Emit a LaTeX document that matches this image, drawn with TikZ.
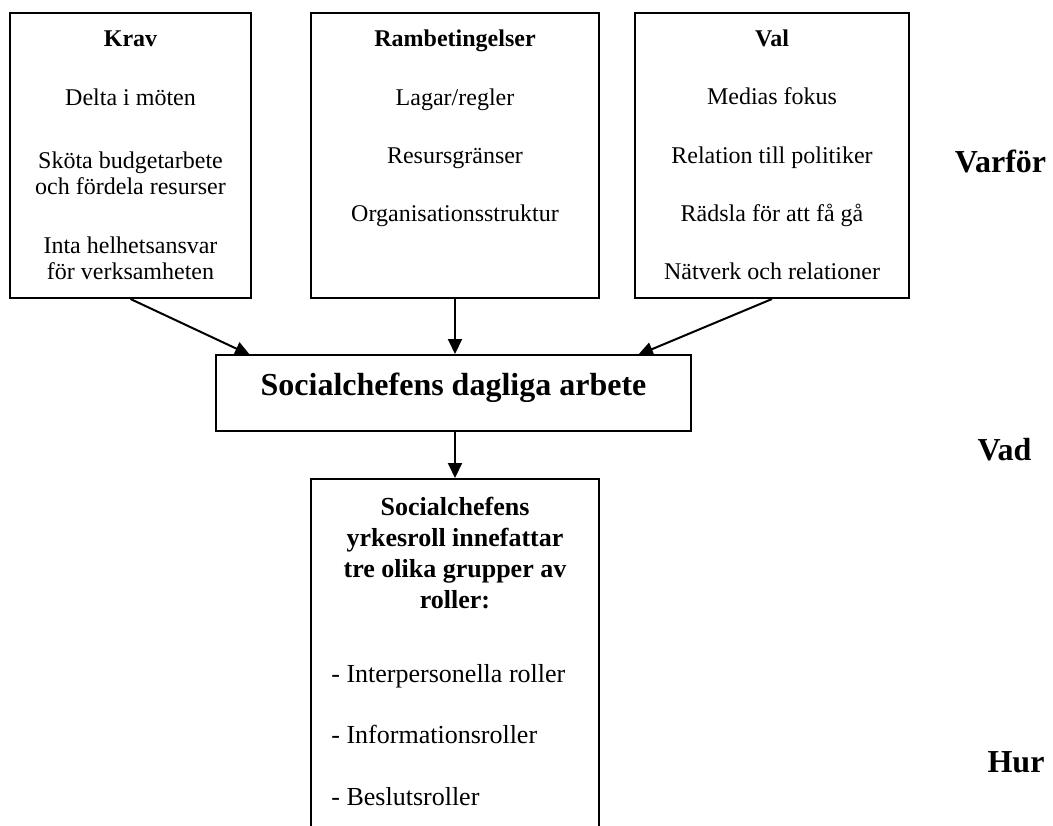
\documentclass[tikz,border=0pt]{standalone}
\usepackage{fontspec}
\setmainfont{Liberation Serif}
\usetikzlibrary{arrows.meta}
\begin{document}
\begin{tikzpicture}[x=0.5pt,y=-0.5pt,
  box/.style={draw, line width=1pt, inner sep=0pt, rectangle},
  arr/.style={line width=1pt, -{Triangle[length=7.5pt,width=7pt]}},
  tn/.style={anchor=base, inner sep=0pt, font=\fontsize{12}{14}\selectfont},
  tb/.style={anchor=base, inner sep=0pt, font=\fontsize{12}{14}\selectfont\bfseries},
  mn/.style={anchor=base, inner sep=0pt, font=\fontsize{13}{15}\selectfont},
  mb/.style={anchor=base, inner sep=0pt, font=\fontsize{13}{15}\selectfont\bfseries},
  big/.style={anchor=base, inner sep=0pt, font=\fontsize{16}{19}\selectfont\bfseries}]
\clip (0,0) rectangle (1053,825);
% boxes
\node[box, minimum width=120.5pt, minimum height=142.5pt] (krav) at (130.5,155.5) {};
\node[box, minimum width=144pt, minimum height=142.5pt] (ramb) at (455,155.5) {};
\node[box, minimum width=137pt, minimum height=142.5pt] (val) at (772,155.5) {};
\node[box, minimum width=237.5pt, minimum height=38pt] (mid) at (453.5,393) {};
\node[box, minimum width=144pt, minimum height=183pt] (roles) at (455,662) {};
% Krav texts
\node[tb] (k0) at (130.5,46) {Krav};
\node[tn] (k1) at (130.5,105) {Delta i möten};
\node[tn] (k2) at (130.5,168) {Sköta budgetarbete};
\node[tn] (k3) at (130.5,194) {och fördela resurser};
\node[tn] (k4) at (130.5,253) {Inta helhetsansvar};
\node[tn] (k5) at (130.5,279) {för verksamheten};
% Rambetingelser texts
\node[tb] (r0) at (455,46) {Rambetingelser};
\node[tn] (r1) at (455,105) {Lagar/regler};
\node[tn] (r2) at (455,163) {Resursgränser};
\node[tn] (r3) at (455,221) {Organisationsstruktur};
% Val texts
\node[tb] (v0) at (772,46) {Val};
\node[tn] (v1) at (772,104) {Medias fokus};
\node[tn] (v2) at (772,163) {Relation till politiker};
\node[tn] (v3) at (772,221) {Rädsla för att få gå};
\node[tn] (v4) at (772,279) {Nätverk och relationer};
% middle
\node[big] (mt) at (453.5,395) {Socialchefens dagliga arbete};
% roles texts
\node[mb] (s0) at (455,515) {Socialchefens};
\node[mb] (s1) at (455,546) {yrkesroll innefattar};
\node[mb] (s2) at (455,577) {tre olika grupper av};
\node[mb] (s3) at (455,608) {roller:};
\node[mn, anchor=base west] (s4) at (331,682) {- Interpersonella roller};
\node[mn, anchor=base west] (s5) at (331,743) {- Informationsroller};
\node[mn, anchor=base west] (s6) at (331,805) {- Beslutsroller};
% side labels
\node[big] (why) at (1000.5,172) {Varför};
\node[big] (what) at (1004.5,460) {Vad};
\node[big] (how) at (1016,772) {Hur};
% arrows
\coordinate (m1) at (250,355);
\coordinate (m3) at (638,355);
\draw[arr] (krav.south) -- (m1);
\draw[arr] (ramb.south) -- (ramb.south |- mid.north);
\draw[arr] (val.south) -- (m3);
\draw[arr] (roles.north |- mid.south) -- (roles.north);
\end{tikzpicture}
\end{document}
